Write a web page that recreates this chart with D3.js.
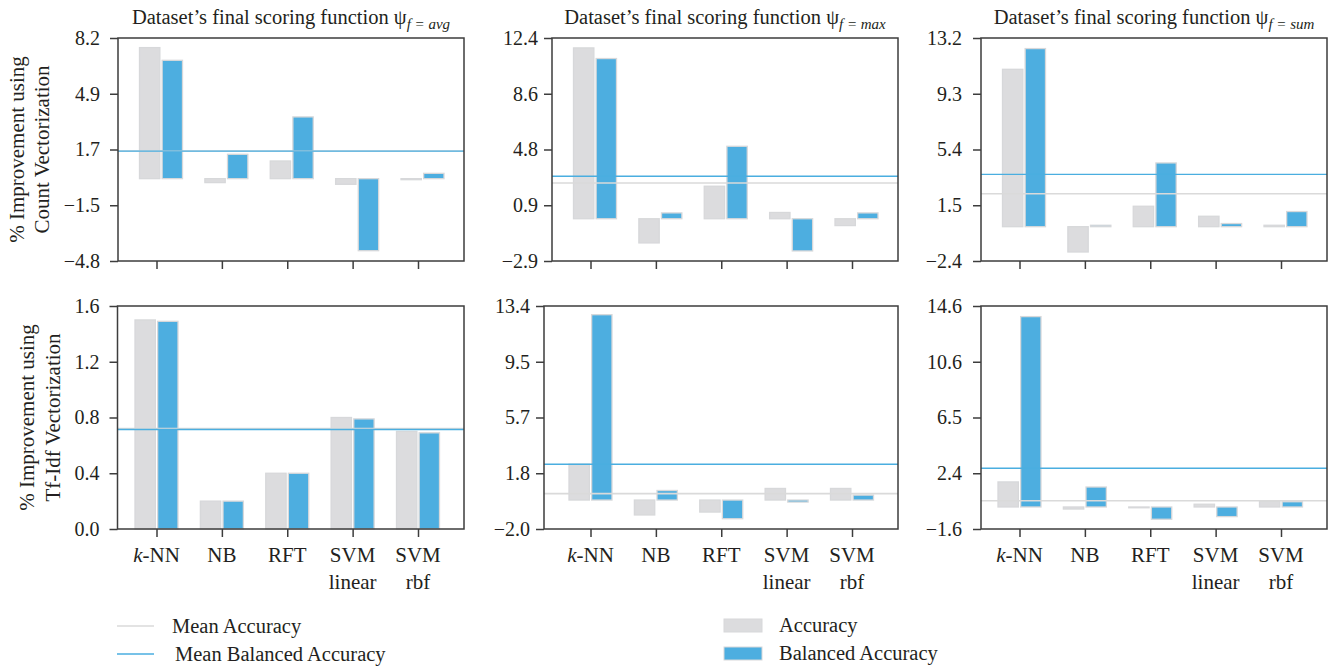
<!DOCTYPE html>
<html>
<head>
<meta charset="utf-8">
<script src="https://cdn.jsdelivr.net/npm/d3@7"></script>
<style>
  body { margin: 0; background: #fff; }
  svg text { font-family: "Liberation Serif", "DejaVu Serif", serif; fill: #231f20; }
</style>
</head>
<body>
<svg id="chart" width="1334" height="669"></svg>
<script>
// Classifiers on the x axis
const categories = ["k-NN", "NB", "RFT", "SVM linear", "SVM rbf"];
const scoringFunctions = ["avg", "max", "sum"];

// % improvement with Count vectorization, per final scoring function
const countAvgAccuracy = [7.64, -0.23, 1.03, -0.33, -0.06];
const countAvgBalanced = [6.90, 1.42, 3.60, -4.20, 0.31];
const countMaxAccuracy = [11.72, -1.66, 2.23, 0.43, -0.47];
const countMaxBalanced = [10.99, 0.40, 4.97, -2.21, 0.40];
const countSumAccuracy = [11.01, -1.77, 1.43, 0.73, 0.10];
const countSumBalanced = [12.46, 0.10, 4.46, 0.22, 1.06];

// % improvement with Tf-Idf vectorization, per final scoring function
const tfidfAvgAccuracy = [1.50, 0.20, 0.40, 0.80, 0.70];
const tfidfAvgBalanced = [1.49, 0.20, 0.40, 0.79, 0.69];
const tfidfMaxAccuracy = [2.48, -1.03, -0.83, 0.80, 0.80];
const tfidfMaxBalanced = [12.80, 0.66, -1.29, -0.14, 0.34];
const tfidfSumAccuracy = [1.82, -0.15, -0.05, 0.20, 0.42];
const tfidfSumBalanced = [13.83, 1.45, -0.89, -0.70, 0.38];

// y-axis extents and their five tick labels
const countAvgDomain = [-4.8, 8.2], countAvgTicks = ["\u22124.8", "\u22121.5", "1.7", "4.9", "8.2"];
const countMaxDomain = [-2.9, 12.4], countMaxTicks = ["\u22122.9", "0.9", "4.8", "8.6", "12.4"];
const countSumDomain = [-2.4, 13.2], countSumTicks = ["\u22122.4", "1.5", "5.4", "9.3", "13.2"];
const tfidfAvgDomain = [0, 1.6], tfidfAvgTicks = ["0.0", "0.4", "0.8", "1.2", "1.6"];
const tfidfMaxDomain = [-2.0, 13.4], tfidfMaxTicks = ["\u22122.0", "1.8", "5.7", "9.5", "13.4"];
const tfidfSumDomain = [-1.6, 14.6], tfidfSumTicks = ["\u22121.6", "2.4", "6.5", "10.6", "14.6"];

const rowTitles = [["% Improvement using", "Count Vectorization"],
                   ["% Improvement using", "Tf-Idf Vectorization"]];

const panels = [
  { row: 0, col: 0, acc: countAvgAccuracy, bal: countAvgBalanced, domain: countAvgDomain, ticks: countAvgTicks },
  { row: 0, col: 1, acc: countMaxAccuracy, bal: countMaxBalanced, domain: countMaxDomain, ticks: countMaxTicks },
  { row: 0, col: 2, acc: countSumAccuracy, bal: countSumBalanced, domain: countSumDomain, ticks: countSumTicks },
  { row: 1, col: 0, acc: tfidfAvgAccuracy, bal: tfidfAvgBalanced, domain: tfidfAvgDomain, ticks: tfidfAvgTicks },
  { row: 1, col: 1, acc: tfidfMaxAccuracy, bal: tfidfMaxBalanced, domain: tfidfMaxDomain, ticks: tfidfMaxTicks },
  { row: 1, col: 2, acc: tfidfSumAccuracy, bal: tfidfSumBalanced, domain: tfidfSumDomain, ticks: tfidfSumTicks }
];

// ---- layout ----
const colLeft = [[118, 552, 981], [117.5, 544, 981]];   // frame left edge, per row
const colRight = [464, 898, 1327];
const rowTop = [38, 306];
const rowBottom = [261, 529];
const labelGap = [18, 14, 19];
const barShift = [4.5, 0];

const COLOR_ACC = "#dcdcde";
const COLOR_BAL = "#4daee0";
const EDGE = "#d7d8da";
const FRAME = "#3d3d3d";

const svg = d3.select("#chart");

panels.forEach(p => {
  const left = colLeft[p.row][p.col];
  const right = colRight[p.col];
  const top = rowTop[p.row];
  const bottom = rowBottom[p.row];

  const x = d3.scalePoint()
    .domain(categories)
    .range([colLeft[0][p.col] + 38.5, right - 46]);
  const inner = d3.scaleBand()
    .domain(["acc", "bal"])
    .range([-21.5, 21.5])
    .paddingInner(0.1);
  const y = d3.scaleLinear().domain(p.domain).range([bottom, top]);

  const g = svg.append("g");

  // bars: accuracy (grey) and balanced accuracy (blue)
  const rows = categories.map((c, i) => ({ cat: c, acc: p.acc[i], bal: p.bal[i] }));
  ["acc", "bal"].forEach(key => {
    g.selectAll(null)
      .data(rows)
      .join("rect")
      .attr("x", d => x(d.cat) + barShift[p.row] + inner(key))
      .attr("width", inner.bandwidth())
      .attr("y", d => Math.min(y(d[key]), y(0)))
      .attr("height", d => Math.max(0.8, Math.abs(y(d[key]) - y(0))))
      .attr("fill", key === "acc" ? COLOR_ACC : COLOR_BAL)
      .attr("stroke", EDGE)
      .attr("stroke-width", 1.3);
  });

  // mean lines
  const meanAcc = d3.mean(p.acc);
  const meanBal = d3.mean(p.bal);
  g.append("line")
    .attr("x1", left).attr("x2", right)
    .attr("y1", y(meanAcc)).attr("y2", y(meanAcc))
    .attr("stroke", "#dadada").attr("stroke-width", 1.6);
  g.append("line")
    .attr("x1", left).attr("x2", right)
    .attr("y1", y(meanBal)).attr("y2", y(meanBal))
    .attr("stroke", "#4aaee0").attr("stroke-width", 1.4);

  // frame
  g.append("rect")
    .attr("x", left).attr("y", top)
    .attr("width", right - left).attr("height", bottom - top)
    .attr("fill", "none").attr("stroke", FRAME).attr("stroke-width", 1.5);

  // y axis
  const lo = p.domain[0], hi = p.domain[1];
  const tickVals = d3.range(5).map(i => lo + i * (hi - lo) / 4);
  const yAxis = d3.axisLeft(y)
    .tickValues(tickVals)
    .tickSize(8)
    .tickPadding(labelGap[p.col] - 8)
    .tickFormat((d, i) => p.ticks[i]);
  const ya = g.append("g").attr("transform", `translate(${left},0)`).call(yAxis);
  ya.select(".domain").remove();
  ya.selectAll(".tick line").attr("stroke", FRAME).attr("stroke-width", 1.5);
  ya.selectAll(".tick text")
    .style("font-family", '"Liberation Serif", serif')
    .style("font-size", "20px").attr("fill", "#231f20");

  // x axis ticks
  const xAxis = d3.axisBottom(x).tickSize(8).tickFormat("");
  const xa = g.append("g").attr("transform", `translate(0,${bottom})`).call(xAxis);
  xa.select(".domain").remove();
  xa.selectAll(".tick line").attr("stroke", FRAME).attr("stroke-width", 1.5);

  // category labels under the bottom row
  if (p.row === 1) {
    categories.forEach(c => {
      const cx = x(c);
      const t = g.append("text")
        .attr("x", cx).attr("y", bottom + 33)
        .attr("text-anchor", "middle")
        .style("font-size", "21px");
      if (c === "k-NN") {
        t.append("tspan").style("font-style", "italic").text("k");
        t.append("tspan").text("-NN");
      } else {
        const parts = c.split(" ");
        t.text(parts[0]);
        if (parts[1]) {
          g.append("text")
            .attr("x", cx).attr("y", bottom + 60)
            .attr("text-anchor", "middle")
            .style("font-size", "21px")
            .text(parts[1]);
        }
      }
    });
  }

  // column titles
  if (p.row === 0) {
    const t = g.append("text")
      .attr("x", (left + right) / 2).attr("y", 24)
      .attr("text-anchor", "middle")
      .style("font-size", "20.5px");
    t.append("tspan").text("Dataset\u2019s final scoring function \u03c8");
    t.append("tspan").attr("dy", 5).style("font-size", "15px").style("font-style", "italic")
      .text("f = " + scoringFunctions[p.col]);
  }
});

// row titles (rotated)
const rowTitleX = [[24, 49], [34, 60]];
rowTitles.forEach((lines, r) => {
  const cy = (rowTop[r] + rowBottom[r]) / 2;
  lines.forEach((line, k) => {
    svg.append("text")
      .attr("transform", `translate(${rowTitleX[r][k]},${cy}) rotate(-90)`)
      .attr("text-anchor", "middle")
      .style("font-size", "21px")
      .text(line);
  });
});

// legends
const lineLegend = [
  { label: "Mean Accuracy", color: "#dadada", y: 626, tx: 172 },
  { label: "Mean Balanced Accuracy", color: "#4aaee0", y: 654, tx: 175 }
];
lineLegend.forEach(d => {
  svg.append("line").attr("x1", 117).attr("x2", 154)
    .attr("y1", d.y).attr("y2", d.y)
    .attr("stroke", d.color).attr("stroke-width", 1.6);
  svg.append("text").attr("x", d.tx).attr("y", d.y + 6.5)
    .style("font-size", "20.5px").text(d.label);
});

const barLegend = [
  { label: "Accuracy", color: COLOR_ACC, y: 619 },
  { label: "Balanced Accuracy", color: COLOR_BAL, y: 647 }
];
barLegend.forEach(d => {
  svg.append("rect").attr("x", 724).attr("y", d.y)
    .attr("width", 38).attr("height", 13)
    .attr("fill", d.color).attr("stroke", EDGE).attr("stroke-width", 1);
  svg.append("text").attr("x", 779).attr("y", d.y + 13)
    .style("font-size", "20.5px").text(d.label);
});
</script>
</body>
</html>
